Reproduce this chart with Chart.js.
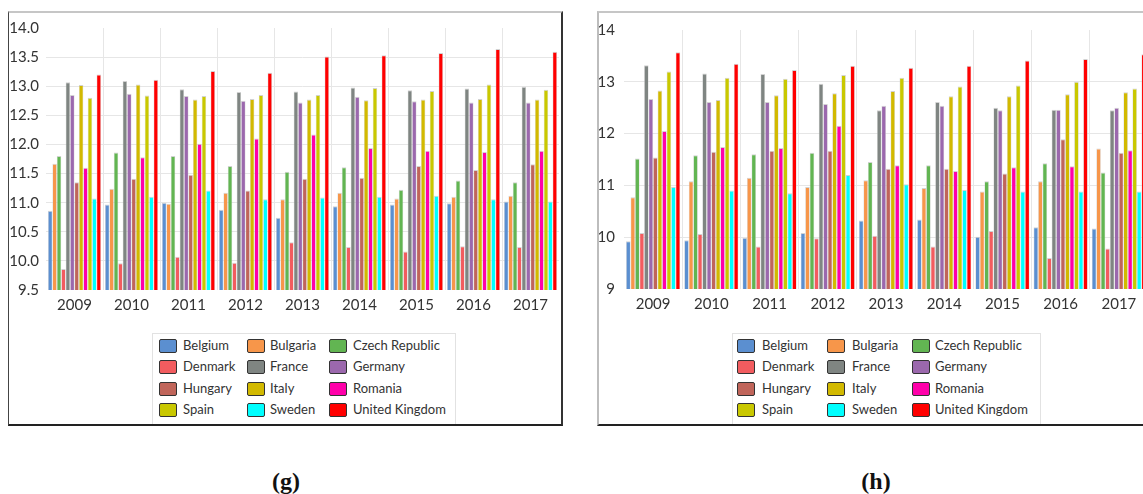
<!DOCTYPE html>
<html>
<head>
<meta charset="utf-8">
<script src="https://cdn.jsdelivr.net/npm/chart.js@4/dist/chart.umd.min.js"></script>
<style>
  html, body { margin: 0; padding: 0; width: 1143px; height: 494px; overflow: hidden; background: #fff; }
  .panel { position: absolute; box-sizing: border-box; }
  .cv { position: absolute; }
  .legend { position: absolute; box-sizing: border-box; border: 1px solid #e2e2e2; border-bottom: none; font-family: Lato, "Open Sans", sans-serif; font-size: 13px; color: #333; }
  .item { position: absolute; height: 16px; line-height: 16px; white-space: nowrap; }
  .sw { position: absolute; top: 1px; width: 16px; height: 12px; border: 1px solid #333; border-radius: 2px; }
  .lbl { position: absolute; top: 0; white-space: nowrap; }
  .cap { position: absolute; width: 80px; text-align: center; line-height: 24px; font-family: "Liberation Serif", "DejaVu Serif", serif; font-weight: bold; font-size: 24px; color: #111; }
</style>
</head>
<body>
<div class="panel" style="left:8px; top:11px; width:555px; height:415px; border-top:2px solid #c6c6c6; border-left:1px solid #444; border-right:2px solid #333; border-bottom:2px solid #222;"></div>
<div class="panel" style="left:597px; top:11px; width:600px; height:415px; border-top:2px solid #c6c6c6; border-left:2px solid #bdbdbd; border-bottom:2px solid #222;"></div>

<canvas id="chartG" class="cv" width="553" height="310" style="left:9px; top:12px;"></canvas>
<canvas id="chartH" class="cv" width="560" height="310" style="left:599px; top:12px;"></canvas>

<div id="legendG" class="legend" style="left:152px; top:333px; width:304px; height:91px;"></div>
<div id="legendH" class="legend" style="left:732px; top:333px; width:309px; height:91px;"></div>

<div class="cap" style="left:246px; top:469px;">(g)</div>
<div class="cap" style="left:836px; top:469px;">(h)</div>

<script>
// ---------- data ----------
const years = ['2009', '2010', '2011', '2012', '2013', '2014', '2015', '2016', '2017'];
const countries = ['Belgium', 'Bulgaria', 'Czech Republic', 'Denmark', 'France', 'Germany',
                   'Hungary', 'Italy', 'Romania', 'Spain', 'Sweden', 'United Kingdom'];

// panel (g)
const gBelgium  = [10.86, 10.97, 11.00, 10.88, 10.74, 10.94, 10.97, 10.99, 11.02];
const gBulgaria = [11.67, 11.24, 10.98, 11.17, 11.06, 11.17, 11.07, 11.10, 11.12];
const gCzech    = [11.80, 11.86, 11.80, 11.63, 11.53, 11.61, 11.22, 11.38, 11.35];
const gDenmark  = [9.86, 9.96, 10.07, 9.97, 10.32, 10.24, 10.16, 10.25, 10.24];
const gFrance   = [13.07, 13.09, 12.95, 12.90, 12.91, 12.98, 12.93, 12.96, 12.99];
const gGermany  = [12.85, 12.87, 12.83, 12.75, 12.72, 12.82, 12.74, 12.72, 12.72];
const gHungary  = [11.35, 11.41, 11.48, 11.21, 11.41, 11.43, 11.63, 11.56, 11.66];
const gItaly    = [13.02, 13.03, 12.77, 12.78, 12.77, 12.76, 12.77, 12.78, 12.77];
const gRomania  = [11.60, 11.78, 12.01, 12.10, 12.17, 11.94, 11.89, 11.87, 11.89];
const gSpain    = [12.80, 12.84, 12.83, 12.85, 12.85, 12.97, 12.92, 13.03, 12.94];
const gSweden   = [11.07, 11.10, 11.21, 11.06, 11.09, 11.10, 11.12, 11.06, 11.02];
const gUK       = [13.20, 13.11, 13.26, 13.23, 13.51, 13.53, 13.57, 13.64, 13.59];

// panel (h)
const hBelgium  = [9.92, 9.94, 9.99, 10.08, 10.32, 10.34, 10.01, 10.19, 10.17];
const hBulgaria = [10.77, 11.08, 11.15, 10.97, 11.10, 10.95, 10.88, 11.08, 11.71];
const hCzech    = [11.52, 11.58, 11.60, 11.63, 11.45, 11.39, 11.08, 11.43, 11.25];
const hDenmark  = [10.08, 10.06, 9.82, 9.98, 10.03, 9.82, 10.12, 9.60, 9.78];
const hFrance   = [13.32, 13.16, 13.15, 12.96, 12.45, 12.61, 12.50, 12.46, 12.45];
const hGermany  = [12.67, 12.61, 12.61, 12.57, 12.54, 12.54, 12.45, 12.46, 12.50];
const hHungary  = [11.54, 11.65, 11.67, 11.67, 11.32, 11.32, 11.23, 11.89, 11.63];
const hItaly    = [12.83, 12.65, 12.74, 12.78, 12.82, 12.72, 12.72, 12.76, 12.80];
const hRomania  = [12.05, 11.74, 11.72, 12.15, 11.39, 11.28, 11.35, 11.37, 11.68];
const hSpain    = [13.20, 13.08, 13.06, 13.13, 13.08, 12.91, 12.93, 13.00, 12.87];
const hSweden   = [10.97, 10.90, 10.85, 11.20, 11.02, 10.91, 10.88, 10.88, 10.88];
const hUK       = [13.57, 13.35, 13.23, 13.31, 13.27, 13.31, 13.41, 13.44, 13.53];

const gTickLabels = ['9.5', '10.0', '10.5', '11.0', '11.5', '12.0', '12.5', '13.0', '13.5', '14.0'];
const hTickLabels = ['9', '10', '11', '12', '13', '14'];

const gSeries = [gBelgium, gBulgaria, gCzech, gDenmark, gFrance, gGermany, gHungary, gItaly, gRomania, gSpain, gSweden, gUK];
const hSeries = [hBelgium, hBulgaria, hCzech, hDenmark, hFrance, hGermany, hHungary, hItaly, hRomania, hSpain, hSweden, hUK];

// ---------- styles ----------
const colors = ['#5b8fd0', '#f7964a', '#62b552', '#f25c5f', '#7f8582', '#9b68ad',
                '#c0655a', '#d2b900', '#ff00aa', '#c9c800', '#00ffff', '#ff0000'];
const FONT = 'Lato, "Open Sans", sans-serif';
const GRID = '#e6e6e6';

function makeChart(id, series, tickLabels, yMin, yMax, step, yWidth, yPad, padTop, padRight, xHeight) {
  const datasets = series.map((d, i) => ({
    label: countries[i],
    data: d,
    backgroundColor: colors[i],
    borderColor: 'rgba(205,205,205,0.9)',
    borderWidth: { top: 1, left: 0.6, right: 0.6, bottom: 0 },
    borderSkipped: false,
    barPercentage: 1.0,
    categoryPercentage: 0.93
  }));
  return new Chart(document.getElementById(id), {
    type: 'bar',
    data: { labels: years, datasets },
    options: {
      responsive: false,
      animation: false,
      layout: { padding: { top: padTop, right: padRight, left: 0, bottom: 0 } },
      plugins: { legend: { display: false }, tooltip: { enabled: false } },
      scales: {
        x: {
          grid: {
            offset: true,
            drawTicks: false,
            color: (ctx) => (ctx.type !== 'tick' || ctx.index === 0) ? 'rgba(0,0,0,0)' : GRID,
            lineWidth: 1
          },
          border: { display: false },
          ticks: { color: '#333', font: { family: FONT, size: 15 }, padding: 6, maxRotation: 0 },
          afterFit: (s) => { s.height = xHeight; }
        },
        y: {
          min: yMin,
          max: yMax,
          grid: {
            drawTicks: false,
            color: (ctx) => (ctx.tick && (ctx.tick.value >= yMax || ctx.tick.value <= yMin)) ? 'rgba(0,0,0,0)' : GRID
          },
          border: { display: false },
          ticks: {
            stepSize: step,
            color: '#333',
            font: { family: FONT, size: 15 },
            padding: yPad,
            callback: (v, i) => tickLabels[i]
          },
          afterFit: (s) => { s.width = yWidth; }
        }
      }
    }
  });
}

makeChart('chartG', gSeries, gTickLabels, 9.5, 14.0, 0.5, 37, 7, 14, 3, 32);
makeChart('chartH', hSeries, hTickLabels, 9, 14, 1, 25, 9, 15, 11, 33);

function buildLegend(id, swX, txX, rowY) {
  const el = document.getElementById(id);
  countries.forEach((name, i) => {
    const col = i % 3, row = Math.floor(i / 3);
    const sw = document.createElement('div');
    sw.className = 'sw';
    sw.style.left = swX[col] + 'px';
    sw.style.top = (rowY[row] - 7) + 'px';
    sw.style.background = colors[i];
    el.appendChild(sw);
    const t = document.createElement('div');
    t.className = 'lbl';
    t.style.left = txX[col] + 'px';
    t.style.top = (rowY[row] - 9) + 'px';
    t.textContent = name;
    el.appendChild(t);
  });
}
// positions are relative to the legend box
buildLegend('legendG', [6, 94, 176], [30, 117, 200], [12, 33, 55, 76]);
buildLegend('legendH', [4, 94, 179], [29, 119, 202], [12, 33, 55, 76]);
</script>
</body>
</html>
